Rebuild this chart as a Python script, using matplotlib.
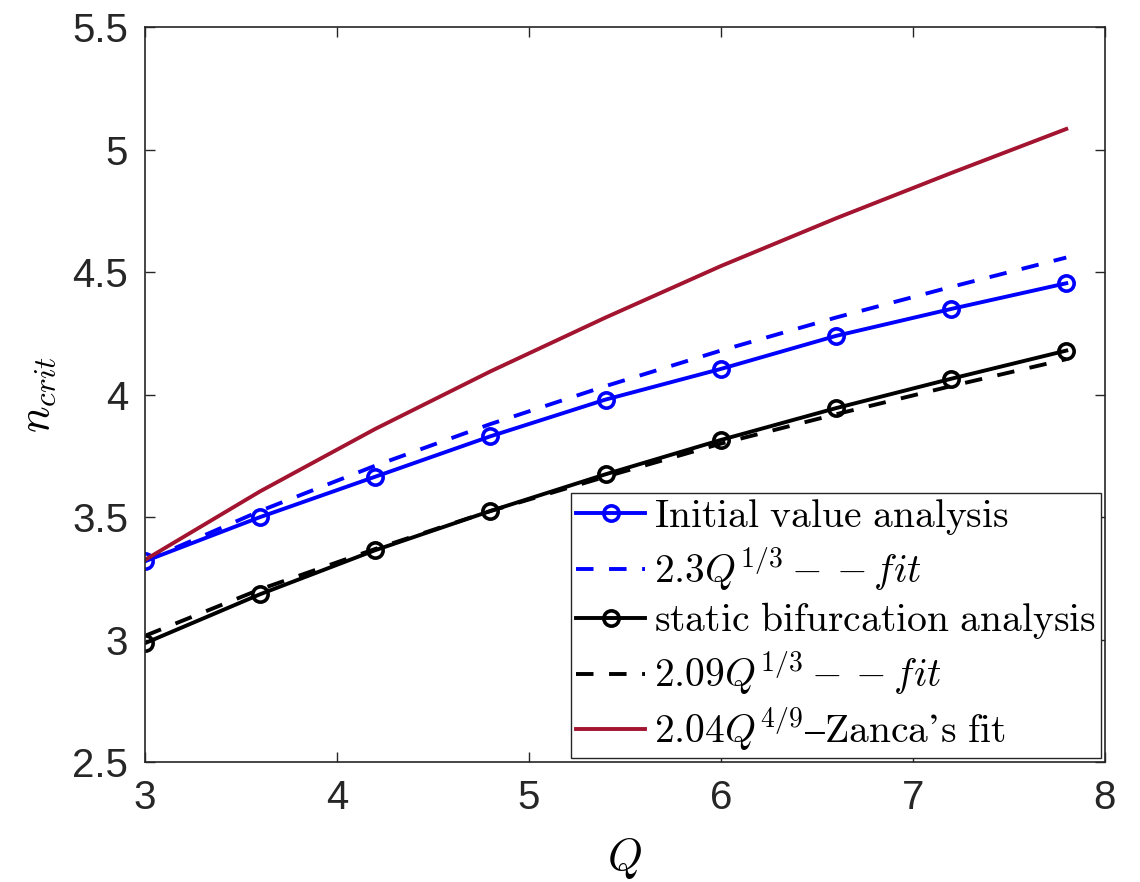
import matplotlib
matplotlib.use('Agg')
import matplotlib.pyplot as plt
from matplotlib.ticker import FormatStrFormatter

plt.rcParams['mathtext.fontset'] = 'cm'
plt.rcParams['font.family'] = ['Liberation Sans', 'DejaVu Sans']

# values
Q = [3.0, 3.6, 4.2, 4.8, 5.4, 6.0, 6.6, 7.2, 7.8]
n_initial = [3.32, 3.50, 3.665, 3.83, 3.98, 4.105, 4.24, 4.35, 4.455]
n_fit_initial = [3.32, 3.525, 3.71, 3.88, 4.035, 4.18, 4.315, 4.44, 4.56]
n_static = [2.985, 3.185, 3.365, 3.525, 3.675, 3.815, 3.945, 4.065, 4.18]
n_fit_static = [3.015, 3.205, 3.37, 3.525, 3.665, 3.80, 3.92, 4.035, 4.145]
n_zanca = [3.325, 3.605, 3.86, 4.095, 4.315, 4.525, 4.72, 4.905, 5.085]

labels = [r'$\mathrm{Initial\ value\ analysis}$',
          r'$2.3Q^{1/3}--fit$',
          r'$\mathrm{static\ bifurcation\ analysis}$',
          r'$2.09Q^{1/3}--fit$',
          r'$2.04Q^{4/9}\mathrm{–Zanca’s\ fit}$']

fig = plt.figure(figsize=(11.4, 8.82), dpi=100)
ax = fig.add_axes([0.127, 0.136, 0.842, 0.833])

lw = 2.8
mk = dict(ms=11, mfc='none', mew=2.6)
ax.plot(Q, n_initial, '-o', color='blue', lw=lw, label=labels[0], **mk)
ax.plot(Q, n_fit_initial, '--', color='blue', lw=lw, dashes=(4.5, 4), label=labels[1])
ax.plot(Q, n_static, '-o', color='black', lw=lw, label=labels[2], **mk)
ax.plot(Q, n_fit_static, '--', color='black', lw=lw, dashes=(4.5, 4), label=labels[3])
ax.plot(Q, n_zanca, '-', color='#A2142F', lw=lw, label=labels[4])

ax.set_xlim(3, 8)
ax.set_ylim(2.5, 5.5)
ax.set_xticks([3, 4, 5, 6, 7, 8])
ax.set_yticks([2.5, 3, 3.5, 4, 4.5, 5, 5.5])
ax.xaxis.set_major_formatter(FormatStrFormatter('%g'))
ax.yaxis.set_major_formatter(FormatStrFormatter('%g'))
ax.tick_params(direction='in', length=7, width=1, top=True, right=True,
               labelsize=29, labelcolor='#262626', color='#262626', pad=12)
for s in ax.spines.values():
    s.set_color('#262626')
    s.set_linewidth(1.2)

ax.set_xlabel(r'$Q$', fontsize=32, labelpad=14)
ax.set_ylabel(r'$n_{crit}$', fontsize=32, labelpad=10)

leg = ax.legend(loc='lower right', bbox_to_anchor=(1.0, 0.0), fontsize=28.5,
                fancybox=False, framealpha=1, edgecolor='#262626',
                borderpad=0.12, labelspacing=0.18, handlelength=1.75,
                handletextpad=0.22, borderaxespad=0.1)
leg.get_frame().set_linewidth(1.0)

fig.savefig('out.png', dpi=100)
